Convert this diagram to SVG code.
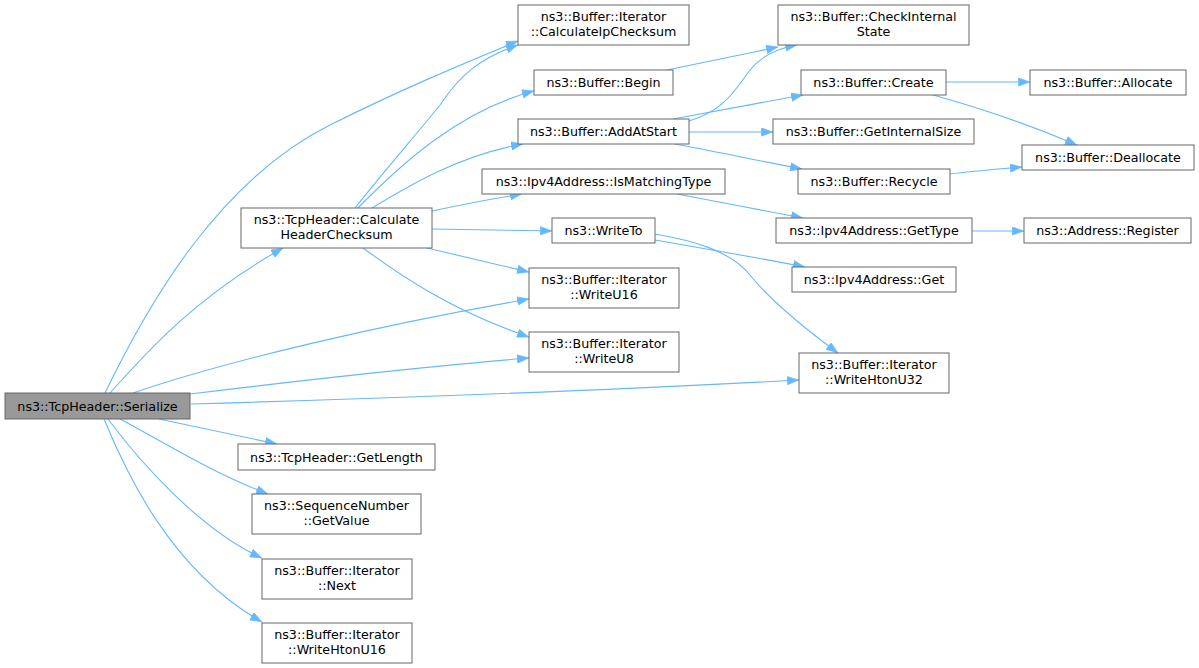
<svg xmlns="http://www.w3.org/2000/svg" width="1199" height="668" viewBox="0 0 1199 668">
<defs>
<marker id="arr" viewBox="0 0 12 9" refX="12" refY="4.5" markerWidth="12" markerHeight="9" markerUnits="userSpaceOnUse" orient="auto">
<path d="M0.3,0.3 L11.7,4.5 L0.3,8.7 Z" fill="#63b8ff" stroke="#63b8ff" stroke-width="0.6"/>
</marker>
<style>
.n rect{fill:#ffffff;stroke:#666666;stroke-width:1}
.root rect{fill:#999999;stroke:#666666;stroke-width:1}
text{font-family:"DejaVu Sans","Noto Sans",sans-serif;font-size:12.7px;fill:#000000;text-anchor:middle}
.e path{fill:none;stroke:#63b8ff;stroke-width:1.1;marker-end:url(#arr)}
</style>
</defs>
<rect width="1199" height="668" fill="#ffffff"/>
<g class="e" id="edges">
<path d="M105,393 C150,300 220,180 330,125 C400,90 460,65 518,41"/>
<path d="M110,393 C140,360 190,300 283,248"/>
<path d="M133,393 C230,360 380,325 529,299"/>
<path d="M190,394 C280,383 420,367 529,358"/>
<path d="M191,404 C400,398 650,388 799,380"/>
<path d="M159,419 C200,428 240,436 277,444"/>
<path d="M120,419 C160,440 210,472 268,494"/>
<path d="M108,419 C140,462 200,530 262,558"/>
<path d="M104,419 C125,470 170,570 262,622"/>
<path d="M355,208 C385,170 420,130 440,105 C460,75 480,58 518,45"/>
<path d="M358,208 C400,165 460,110 534,91"/>
<path d="M372,208 C410,185 460,155 523,144"/>
<path d="M432,211 C460,205 490,199 522,194"/>
<path d="M432,229 C470,230 510,230 552,231"/>
<path d="M427,248 C460,256 495,264 529,272"/>
<path d="M363,248 C400,275 450,310 529,337"/>
<path d="M667,70 C700,63 740,55 778,47"/>
<path d="M689,121 C725,110 735,90 750,70 C762,55 780,48 797,45"/>
<path d="M673,119 C715,111 760,103 803,95"/>
<path d="M689,132 L773,132"/>
<path d="M675,144 C718,152 760,161 802,169"/>
<path d="M946,82 L1030,82"/>
<path d="M933,95 C980,108 1030,125 1077,145"/>
<path d="M950,174 C975,171 1000,169 1022,167"/>
<path d="M677,194 C720,202 760,210 803,218"/>
<path d="M972,231 L1024,231"/>
<path d="M655,240 C700,248 760,258 805,267"/>
<path d="M655,234 C690,240 730,250 750,275 C770,300 800,325 838,353"/>
</g>
<g id="serialize" class="root"><rect x="5" y="393" width="185" height="26"/><text x="97.5" y="410.5">ns3::TcpHeader::Serialize</text></g>
<g id="calcHeaderChecksum" class="n"><rect x="241" y="208" width="191" height="40"/><text x="336.5" y="224">ns3::TcpHeader::Calculate</text><text x="336.5" y="239">HeaderChecksum</text></g>
<g id="calcIpChecksum" class="n"><rect x="518" y="5" width="171" height="40"/><text x="603.5" y="21">ns3::Buffer::Iterator</text><text x="603.5" y="36">::CalculateIpChecksum</text></g>
<g id="begin" class="n"><rect x="534" y="70" width="139" height="25"/><text x="603.5" y="87">ns3::Buffer::Begin</text></g>
<g id="addAtStart" class="n"><rect x="518" y="119" width="171" height="25"/><text x="603.5" y="136">ns3::Buffer::AddAtStart</text></g>
<g id="isMatchingType" class="n"><rect x="482" y="169" width="243" height="25"/><text x="603.5" y="186">ns3::Ipv4Address::IsMatchingType</text></g>
<g id="writeTo" class="n"><rect x="552" y="218" width="103" height="25"/><text x="603.5" y="235">ns3::WriteTo</text></g>
<g id="writeU16" class="n"><rect x="529" y="268" width="150" height="40"/><text x="604" y="284">ns3::Buffer::Iterator</text><text x="604" y="299">::WriteU16</text></g>
<g id="writeU8" class="n"><rect x="529" y="332" width="150" height="40"/><text x="604" y="348">ns3::Buffer::Iterator</text><text x="604" y="363">::WriteU8</text></g>
<g id="getLength" class="n"><rect x="238" y="444" width="197" height="26"/><text x="336.5" y="461.5">ns3::TcpHeader::GetLength</text></g>
<g id="getValue" class="n"><rect x="252" y="494" width="169" height="40"/><text x="336.5" y="510">ns3::SequenceNumber</text><text x="336.5" y="525">::GetValue</text></g>
<g id="next" class="n"><rect x="262" y="559" width="150" height="40"/><text x="337" y="575">ns3::Buffer::Iterator</text><text x="337" y="590">::Next</text></g>
<g id="writeHtonU16" class="n"><rect x="262" y="623" width="150" height="40"/><text x="337" y="639">ns3::Buffer::Iterator</text><text x="337" y="654">::WriteHtonU16</text></g>
<g id="checkInternalState" class="n"><rect x="778" y="5" width="191" height="40"/><text x="873.5" y="21">ns3::Buffer::CheckInternal</text><text x="873.5" y="36">State</text></g>
<g id="create" class="n"><rect x="801" y="70" width="145" height="25"/><text x="873.5" y="87">ns3::Buffer::Create</text></g>
<g id="getInternalSize" class="n"><rect x="773" y="119" width="201" height="25"/><text x="873.5" y="136">ns3::Buffer::GetInternalSize</text></g>
<g id="recycle" class="n"><rect x="798" y="169" width="152" height="25"/><text x="874" y="186">ns3::Buffer::Recycle</text></g>
<g id="getType" class="n"><rect x="776" y="218" width="196" height="25"/><text x="874" y="235">ns3::Ipv4Address::GetType</text></g>
<g id="get" class="n"><rect x="792" y="267" width="164" height="25"/><text x="874" y="284">ns3::Ipv4Address::Get</text></g>
<g id="writeHtonU32" class="n"><rect x="799" y="353" width="150" height="40"/><text x="874" y="369">ns3::Buffer::Iterator</text><text x="874" y="384">::WriteHtonU32</text></g>
<g id="allocate" class="n"><rect x="1030" y="70" width="156" height="25"/><text x="1108" y="87">ns3::Buffer::Allocate</text></g>
<g id="deallocate" class="n"><rect x="1022" y="145" width="172" height="25"/><text x="1108" y="162">ns3::Buffer::Deallocate</text></g>
<g id="register" class="n"><rect x="1024" y="218" width="167" height="25"/><text x="1107.5" y="235">ns3::Address::Register</text></g>
</svg>
